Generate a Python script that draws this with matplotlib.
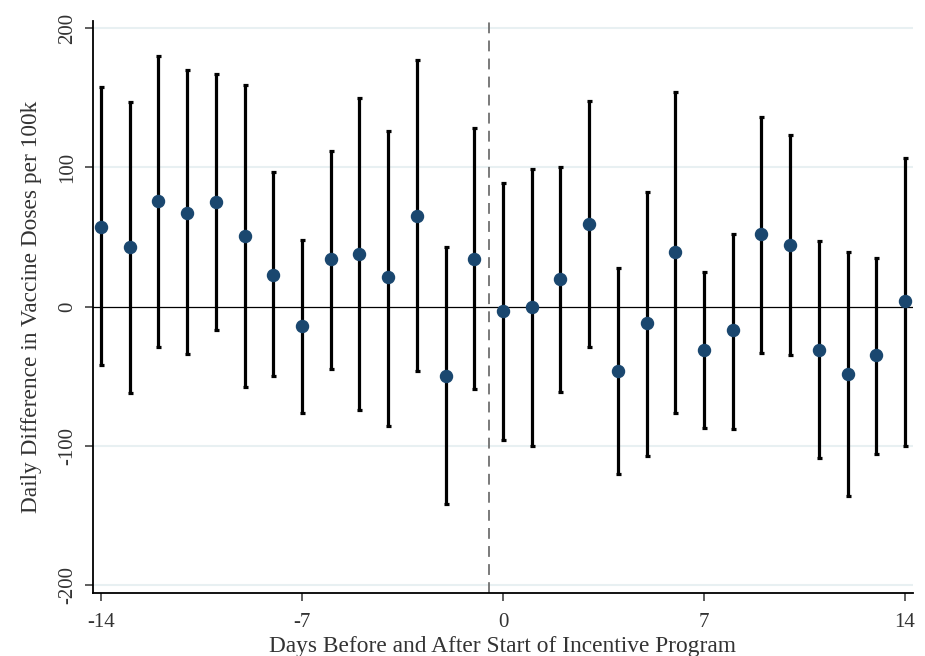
import matplotlib.pyplot as plt
import numpy as np

days = list(range(-14, 15))
estimate = [57, 43, 76, 67, 75, 51, 23, -14, 34, 38, 21, 65, -50, 34,
            -3, 0, 20, 59, -46, -12, 39, -31, -17, 52, 44, -31, -48, -35, 4]
upper = [158, 147, 180, 170, 167, 159, 97, 48, 112, 150, 126, 177, 43, 128,
         89, 99, 100, 148, 28, 82, 154, 25, 52, 136, 123, 47, 39, 35, 107]
lower = [-42, -62, -29, -34, -17, -58, -50, -76, -45, -74, -86, -46, -142, -59,
         -96, -100, -61, -29, -120, -107, -76, -87, -88, -33, -35, -109, -136, -106, -100]

xticks = [-14, -7, 0, 7, 14]
yticks = [-200, -100, 0, 100, 200]

plt.rcParams["font.family"] = ["Liberation Serif", "DejaVu Serif"]
plt.rcParams["axes.unicode_minus"] = False

fig = plt.figure(figsize=(9.25, 6.56), dpi=100)
ax = fig.add_axes([0.1002, 0.0956, 0.8865, 0.8728])

est = np.array(estimate)
yerr = [est - np.array(lower), np.array(upper) - est]

for y in [-200, -100, 100, 200]:
    ax.axhline(y, color="#e8f0f2", lw=1.5, zorder=0)
ax.axhline(0, color="black", lw=0.9, zorder=1)
ax.axvline(-0.5, color="#707070", lw=1.3, ls=(0, (6, 4)), zorder=1)

ax.errorbar(days, estimate, yerr=yerr, fmt="none", ecolor="black",
            elinewidth=2.3, capsize=1.8, capthick=2.3, zorder=2)
ax.scatter(days, estimate, s=75, color="#1a476f", zorder=3)

ax.set_xlim(-14.29, 14.27)
ax.set_ylim(-205.8, 205.3)
ax.set_xticks(xticks)
ax.set_yticks(yticks)
ax.tick_params(axis="both", labelsize=15, colors="#333333", length=6, width=1.1)
ax.tick_params(axis="x", pad=8)
ax.tick_params(axis="y", labelrotation=90, pad=5)
for lbl in ax.get_yticklabels():
    lbl.set_va("center")

for side in ["top", "right"]:
    ax.spines[side].set_visible(False)
for side in ["left", "bottom"]:
    ax.spines[side].set_linewidth(1.3)

ax.set_ylabel("Daily Difference in Vaccine Doses per 100k", fontsize=16.8,
              color="#333333", labelpad=12)
ax.set_xlabel("Days Before and After Start of Incentive Program", fontsize=16.8,
              color="#333333", labelpad=3)

fig.savefig("out.png", dpi=100)
